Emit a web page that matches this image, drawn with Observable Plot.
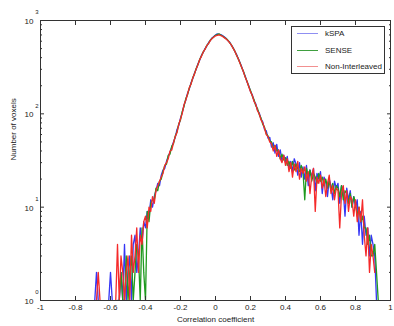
<!DOCTYPE html>
<html><head><meta charset="utf-8">
<script src="https://cdn.jsdelivr.net/npm/d3@7"></script>
<script src="https://cdn.jsdelivr.net/npm/@observablehq/plot@0.6"></script>
<style>
body{margin:0;background:#fff;font-family:"Liberation Sans",Arial,sans-serif;}
#wrap{position:relative;width:394px;height:326px;}
#legend{position:absolute;left:291px;top:26px;width:92px;height:46px;border:1.5px solid #333;background:#fff;font-size:8px;color:#222;}
#legend .row{position:absolute;left:0;height:10px;width:92px;}
#legend .ln{position:absolute;left:5px;width:21px;top:4px;height:0;border-top:1.5px solid;}
#legend .tx{position:absolute;left:33px;top:0;line-height:10px;white-space:nowrap;}
</style></head><body><div id="wrap"></div>
<script>
const binStart = -0.70, binStep = 0.01;
const kSPA = [
0,1,2,1,0,0,0,0,0,1,
2,1,0,0,1,1,2,1,4,1,
2,3,1,4,5,2,3,6,4,7,
6,9,8,12,10,13,15,18,17,22,
25,26,31,35,39,44,50,56,68,75,
90,103,124,140,165,184,215,238,273,302,
344,377,425,455,500,532,578,612,650,675,
700,718,712,705,688,668,645,612,590,546,
515,468,434,392,355,318,280,253,220,200,
174,160,138,128,110,102,88,82,68,66,
55,56,44,49,38,47,35,41,31,36,
30,35,26,31,24,33,29,22,30,21,
27,20,28,17,25,21,26,15,23,20,
24,14,21,19,13,20,17,12,19,16,
18,11,17,15,8,16,12,15,10,13,
10,12,5,9,4,8,5,6,3,5,
4,3,1,0];
const SENSE = [
0,0,0,0,0,0,0,0,0,0,
0,0,0,0,0,1,2,1,1,3,
1,2,3,1,2,4,3,1,6,2,
1,9,7,11,12,12,16,15,19,20,
24,28,29,36,37,45,48,58,64,78,
86,106,120,145,160,188,210,243,268,308,
338,384,418,462,492,540,568,615,642,668,
695,705,720,698,682,660,642,618,582,552,
508,472,428,388,350,312,284,248,224,196,
178,155,142,122,114,98,90,77,72,61,
58,51,50,42,46,40,41,33,37,32,
34,28,31,26,31,25,29,26,24,28,
24,12,26,21,25,19,23,21,18,23,
19,21,17,20,16,19,15,18,14,17,
16,13,17,12,15,14,11,14,10,13,
11,8,10,7,8,6,6,4,5,3,
3,4,2,1];
const nonInterleaved = [
0,0,1,2,1,0,0,0,0,0,
0,0,0,1,4,1,3,2,1,2,
3,1,5,2,3,6,2,5,4,7,
8,6,10,9,13,11,15,17,19,21,
23,28,30,33,40,41,49,57,63,77,
88,101,125,140,162,190,208,242,268,305,
338,382,415,460,490,538,565,608,640,662,
685,692,700,690,675,655,635,612,580,548,
505,470,425,390,348,314,280,246,222,195,
172,158,136,126,108,100,86,80,70,60,
57,50,48,40,46,35,41,33,30,36,
28,33,24,30,21,29,24,31,20,26,
23,27,19,24,14,22,26,9,21,18,
22,16,20,13,18,22,14,17,12,16,
15,6,14,17,11,15,9,13,12,8,
12,7,10,7,12,5,3,6,2,4,
3,2,0,0];
const seriesNames = ["kSPA", "SENSE", "Non-Interleaved"];
const seriesColors = ["#3535f5", "#1f9a1f", "#f52a2a"];
const legendColors = ["#8f8ff2", "#3f9f3f", "#f29090"];
const xTicks = [-1, -0.8, -0.6, -0.4, -0.2, 0, 0.2, 0.4, 0.6, 0.8, 1];
const xTickLabels = ["-1", "-0.8", "-0.6", "-0.4", "-0.2", "0", "0.2", "0.4", "0.6", "0.8", "1"];
const yTicks = [1, 10, 100, 1000];
const yExponents = ["0", "1", "2", "3"];
const yMinor = [2,3,4,5,6,7,8,9,20,30,40,50,60,70,80,90,200,300,400,500,600,700,800,900];
const xLabel = "Correlation coefficient";
const yLabel = "Number of voxels";

const bins = kSPA.map((_, i) => +(binStart + i * binStep).toFixed(2));
const seriesData = [kSPA, SENSE, nonInterleaved].map(arr =>
  arr.map((v, i) => ({x: bins[i], y: v > 0 ? v : NaN})));

const ink = "#222";
const chart = Plot.plot({
  width: 394, height: 326,
  marginLeft: 40, marginRight: 4, marginTop: 20, marginBottom: 26,
  style: {fontFamily: '"Liberation Sans", Arial, sans-serif', fontSize: "8px", color: ink, background: "transparent"},
  x: {domain: [-1, 1]},
  y: {type: "log", domain: [1, 1000]},
  marks: [
    ...seriesData.map((d, s) => Plot.line(d, {x: "x", y: "y", stroke: seriesColors[s], strokeWidth: 1.3, clip: true})),
    Plot.frame({stroke: "#333"}),
    Plot.axisX(xTicks, {anchor: "bottom", tickSize: 0, tickPadding: 4, tickFormat: d => xTickLabels[xTicks.indexOf(d)], label: null}),
    Plot.axisX(xTicks, {anchor: "bottom", tickSize: -4, fill: "none", label: null, stroke: "#333"}),
    Plot.axisX(xTicks, {anchor: "top", tickSize: -4, fill: "none", label: null, stroke: "#333"}),
    Plot.axisY(yTicks, {anchor: "left", tickSize: 0, tickPadding: 7, tickFormat: () => "10", label: null, dy: 1}),
    Plot.axisY(yTicks, {anchor: "left", tickSize: -4, fill: "none", label: null, stroke: "#333"}),
    Plot.axisY(yMinor, {anchor: "left", tickSize: -2, fill: "none", label: null, stroke: "#333"}),
    Plot.axisY(yTicks, {anchor: "right", tickSize: -4, fill: "none", label: null, stroke: "#333"}),
    Plot.axisY(yMinor, {anchor: "right", tickSize: -2, fill: "none", label: null, stroke: "#333"}),
    Plot.text(yTicks, {y: d => d, text: (d, i) => yExponents[i], frameAnchor: "left", dx: -2, dy: -8, textAnchor: "end", fontSize: 6, fill: ink}),
    Plot.text([xLabel], {frameAnchor: "bottom", dy: 21, fill: ink}),
    Plot.text([yLabel], {frameAnchor: "left", rotate: -90, dx: -27, fill: ink})
  ]
});
const wrap = document.getElementById("wrap");
wrap.appendChild(chart);
const legend = document.createElement("div");
legend.id = "legend";
seriesNames.forEach((name, i) => {
  const row = document.createElement("div");
  row.className = "row";
  row.style.top = (2 + i * 16.5) + "px";
  row.innerHTML = `<div class="ln" style="border-color:${legendColors[i]}"></div><div class="tx">${name}</div>`;
  legend.appendChild(row);
});
wrap.appendChild(legend);
</script>
</body></html>
